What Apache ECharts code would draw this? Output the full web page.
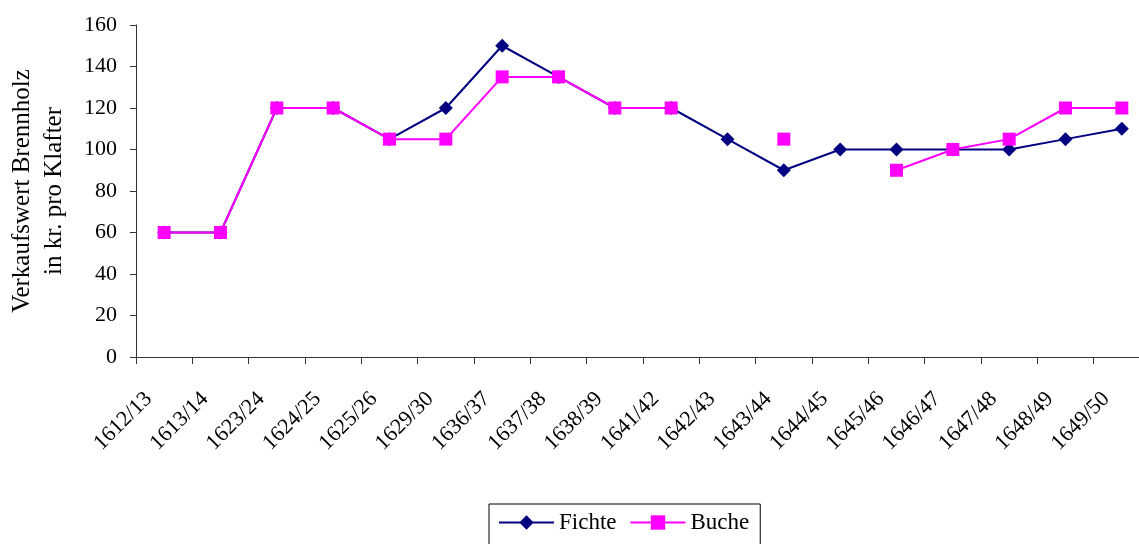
<!DOCTYPE html>
<html>
<head>
<meta charset="utf-8">
<script src="https://cdn.jsdelivr.net/npm/echarts@6/dist/echarts.min.js"></script>
<style>
  html, body { margin: 0; padding: 0; background: #fff; }
  #chart { width: 1139px; height: 544px; }
</style>
</head>
<body>
<div id="chart"></div>
<script>
// Wirtschaftsjahre
const categories = ['1612/13', '1613/14', '1623/24', '1624/25', '1625/26', '1629/30',
  '1636/37', '1637/38', '1638/39', '1641/42', '1642/43', '1643/44', '1644/45',
  '1645/46', '1646/47', '1647/48', '1648/49', '1649/50'];

// Verkaufswert in Kreuzer pro Klafter
const fichte = [60, 60, 120, 120, 105, 120, 150, 135, 120, 120, 105, 90, 100, 100, 100, 100, 105, 110];
const buche = [60, 60, 120, 120, 105, 105, 135, 135, 120, 120, null, 105, null, 90, 100, 105, 120, 120];

const yTicks = { min: 0, max: 160, interval: 20 };

const serif = '"Liberation Serif", "Times New Roman", serif';
const chart = echarts.init(document.getElementById('chart'), null, { renderer: 'canvas' });

chart.setOption({
  animation: false,
  backgroundColor: '#ffffff',
  textStyle: { fontFamily: serif, color: '#000' },
  grid: {
    left: 136, right: -11, top: 25, bottom: 187,
    containLabel: false,
    outerBoundsMode: 'none'
  },
  legend: {
    left: 489,
    top: 504,
    itemWidth: 55,
    itemHeight: 18,
    itemGap: 13,
    padding: [7, 11, 20, 9],
    borderColor: '#000',
    borderWidth: 1,
    lineStyle: { width: 2 },
    textStyle: { fontFamily: serif, fontSize: 23, color: '#000' },
    data: ['Fichte', 'Buche']
  },
  xAxis: {
    type: 'category',
    data: categories,
    boundaryGap: true,
    axisLine: { lineStyle: { color: '#333', width: 1 } },
    axisTick: { show: true, length: 7, lineStyle: { color: '#333' } },
    axisLabel: {
      rotate: 45,
      interval: 0,
      margin: 23,
      padding: [0, 22, 0, 0],
      fontFamily: serif,
      fontSize: 22,
      color: '#000'
    },
    splitLine: { show: false }
  },
  yAxis: {
    type: 'value',
    min: yTicks.min,
    max: yTicks.max,
    interval: yTicks.interval,
    name: 'Verkaufswert Brennholz\nin kr. pro Klafter',
    nameLocation: 'middle',
    nameGap: 66,
    nameTextStyle: { fontFamily: serif, fontSize: 25, color: '#000', lineHeight: 32 },
    axisLine: { show: true, lineStyle: { color: '#333', width: 1 } },
    axisTick: { show: true, length: 6, lineStyle: { color: '#333' } },
    axisLabel: { margin: 19, fontFamily: serif, fontSize: 22, color: '#000' },
    splitLine: { show: false }
  },
  series: [
    {
      name: 'Fichte',
      type: 'line',
      data: fichte,
      symbol: 'diamond',
      symbolSize: 14,
      showAllSymbol: true,
      itemStyle: { color: '#000080' },
      lineStyle: { color: '#000080', width: 2 }
    },
    {
      name: 'Buche',
      type: 'line',
      data: buche,
      connectNulls: false,
      symbol: 'rect',
      symbolSize: 13,
      showAllSymbol: true,
      itemStyle: { color: '#ff00ff' },
      lineStyle: { color: '#ff00ff', width: 2 }
    }
  ]
});
</script>
</body>
</html>
